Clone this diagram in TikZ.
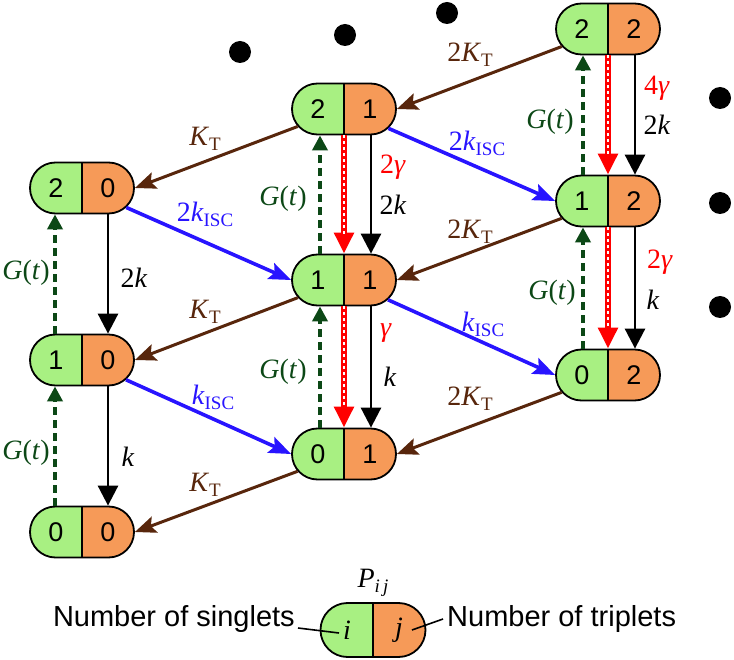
\documentclass[tikz,border=0pt]{standalone}
\usepackage{fontspec}
\setmainfont{Liberation Serif}
\setsansfont{Liberation Sans}
\usetikzlibrary{shapes.misc,arrows.meta,calc}
\definecolor{lgreen}{RGB}{168,240,130}
\definecolor{lorange}{RGB}{246,154,88}
\definecolor{kbrown}{RGB}{88,38,12}
\definecolor{kblue}{RGB}{40,20,255}
\definecolor{kgreen}{RGB}{12,72,22}
\newcommand{\mysub}[1]{\raisebox{-0.4ex}{\fontsize{19}{19}\selectfont #1}}
\newcommand{\digfont}{\sffamily\fontsize{27}{27}\selectfont}
\tikzset{
  pnode/.style 2 args={rounded rectangle, draw, line width=1.8pt,
    minimum width=104pt, minimum height=51pt, inner sep=0pt,
    path picture={
      \fill[lgreen] (path picture bounding box.south west) rectangle (path picture bounding box.north);
      \fill[lorange] (path picture bounding box.south) rectangle (path picture bounding box.north east);
      \draw[line width=1.6pt] (path picture bounding box.south) -- (path picture bounding box.north);},
    label={[xshift=-26pt,font=\digfont,inner sep=0pt]center:#1},
    label={[xshift=26pt,font=\digfont,inner sep=0pt]center:#2}},
  lab/.style={font=\fontsize{28}{30}\selectfont, inner sep=0pt},
  legtext/.style={font=\sffamily\fontsize{29}{31}\selectfont, inner sep=0pt},
  brownarr/.style={draw=kbrown, line width=3pt, -{Stealth[length=21pt,width=17pt,inset=4pt]}},
  bluearr/.style={draw=kblue, line width=3.6pt, -{Stealth[length=22pt,width=17pt,inset=4pt]}},
  blackarr/.style={draw=black, line width=2.8pt, -{Triangle[length=20pt,width=20pt]}},
  greenarr/.style={draw=kgreen, line width=4.5pt, dash pattern=on 8pt off 5pt, -{Triangle[length=15pt,width=15pt]}},
  redarr/.style={draw=red, line width=6.5pt, -{Triangle[length=21pt,width=19pt]}},
  reddots/.style={draw=white, line width=2.2pt, dash pattern=on 3pt off 3pt, shorten >=20pt},
}
\begin{document}
\begin{tikzpicture}[x=1pt,y=-1pt]
\useasboundingbox (0,0) rectangle (734,660);
% dots
\fill (240,52) circle (11pt);
\fill (345,35) circle (11pt);
\fill (447,13) circle (11pt);
\fill (720,98) circle (11pt);
\fill (720,203) circle (11pt);
\fill (720,307) circle (11pt);
% nodes
\node[pnode={2}{0}] (n20) at (82,188) {};
\node[pnode={1}{0}] (n10) at (82,360) {};
\node[pnode={0}{0}] (n00) at (82,532) {};
\node[pnode={2}{1}] (n21) at (344,109) {};
\node[pnode={1}{1}] (n11) at (344,280) {};
\node[pnode={0}{1}] (n01) at (344,454) {};
\node[pnode={2}{2}] (n22) at (608,29) {};
\node[pnode={1}{2}] (n12) at (608,201) {};
\node[pnode={0}{2}] (n02) at (608,375) {};
% brown
\draw[brownarr] (n21) -- (n20.east);
\draw[brownarr] (n11) -- (n10.east);
\draw[brownarr] (n01) -- (n00.east);
\draw[brownarr] (n22) -- (n21.east);
\draw[brownarr] (n12) -- (n11.east);
\draw[brownarr] (n02) -- (n01.east);
% blue
\draw[bluearr] (n20) -- (n11.west);
\draw[bluearr] (n10) -- (n01.west);
\draw[bluearr] (n21) -- (n12.west);
\draw[bluearr] (n11) -- (n02.west);
% green
\draw[greenarr] ([xshift=-27pt]n10.north) -- ([xshift=-27pt]n20.south);
\draw[greenarr] ([xshift=-27pt]n00.north) -- ([xshift=-27pt]n10.south);
\draw[greenarr] ([xshift=-24pt]n11.north) -- ([xshift=-24pt]n21.south);
\draw[greenarr] ([xshift=-24pt]n01.north) -- ([xshift=-24pt]n11.south);
\draw[greenarr] ([xshift=-25pt]n12.north) -- ([xshift=-25pt]n22.south);
\draw[greenarr] ([xshift=-25pt]n02.north) -- ([xshift=-25pt]n12.south);
% black
\draw[blackarr] ([xshift=26pt]n20.south) -- ([xshift=26pt]n10.north);
\draw[blackarr] ([xshift=26pt]n10.south) -- ([xshift=26pt]n00.north);
\draw[blackarr] ([xshift=27pt]n21.south) -- ([xshift=27pt]n11.north);
\draw[blackarr] ([xshift=27pt]n11.south) -- ([xshift=27pt]n01.north);
\draw[blackarr] ([xshift=27pt]n22.south) -- ([xshift=27pt]n12.north);
\draw[blackarr] ([xshift=27pt]n12.south) -- ([xshift=27pt]n02.north);
% red dotted
\draw[redarr] (n21.south) -- (n11.north);
\draw[reddots] (n21.south) -- (n11.north);
\draw[redarr] (n11.south) -- (n01.north);
\draw[reddots] (n11.south) -- (n01.north);
\draw[redarr] (n22.south) -- (n12.north);
\draw[reddots] (n22.south) -- (n12.north);
\draw[redarr] (n12.south) -- (n02.north);
\draw[reddots] (n12.south) -- (n02.north);
% labels
\node[lab,text=kgreen] (g1) at (26,273) {\textit{G}(\textit{t})};
\node[lab,text=kgreen] (g2) at (26,453) {\textit{G}(\textit{t})};
\node[lab] (k1) at (134,278) {2\textit{k}};
\node[lab] (k2) at (128,457) {\textit{k}};
\node[lab,text=kbrown] (kt1) at (205,139) {\textit{K}\mysub{T}};
\node[lab,text=kbrown] (kt2) at (205,312) {\textit{K}\mysub{T}};
\node[lab,text=kbrown] (kt3) at (205,485) {\textit{K}\mysub{T}};
\node[lab,text=kblue] (ki1) at (205,214) {2\textit{k}\mysub{ISC}};
\node[lab,text=kblue] (ki2) at (213,397) {\textit{k}\mysub{ISC}};
\node[lab,text=kgreen] (g3) at (283,199) {\textit{G}(\textit{t})};
\node[lab,text=kgreen] (g4) at (283,372) {\textit{G}(\textit{t})};
\node[lab,text=red] (r1) at (393,167) {2\textit{γ}};
\node[lab] (k3) at (393,205) {2\textit{k}};
\node[lab,text=red] (r2) at (386,333) {\textit{γ}};
\node[lab] (k4) at (390,377) {\textit{k}};
\node[lab,text=kbrown] (kt4) at (470,55) {2\textit{K}\mysub{T}};
\node[lab,text=kbrown] (kt5) at (470,232) {2\textit{K}\mysub{T}};
\node[lab,text=kbrown] (kt6) at (470,399) {2\textit{K}\mysub{T}};
\node[lab,text=kblue] (ki3) at (477,143) {2\textit{k}\mysub{ISC}};
\node[lab,text=kblue] (ki4) at (483,324) {\textit{k}\mysub{ISC}};
\node[lab,text=kgreen] (g5) at (550,122) {\textit{G}(\textit{t})};
\node[lab,text=kgreen] (g6) at (552,293) {\textit{G}(\textit{t})};
\node[lab,text=red] (r3) at (657,88) {4\textit{γ}};
\node[lab] (k5) at (657,125) {2\textit{k}};
\node[lab,text=red] (r4) at (660,262) {2\textit{γ}};
\node[lab] (k6) at (653,300) {\textit{k}};
% legend
\node[pnode={\rmfamily\itshape\fontsize{28}{28}\selectfont i}{\rmfamily\itshape\fontsize{28}{28}\selectfont j}, minimum height=54pt, minimum width=105pt] (leg) at (373,630) {};
\node[lab] (pij) at (373,583) {\textit{P}\mysub{\textit{i\,j}}};
\node[legtext, anchor=base east] (ns) at (295,626) {Number of singlets};
\node[legtext, anchor=base west] (nt) at (447,626) {Number of triplets};
\coordinate (li) at (339,633);
\coordinate (lj) at (412,630);
\draw[line width=1.6pt] ([xshift=3pt,yshift=-2pt]ns.base east) -- (li);
\draw[line width=1.6pt] (lj) -- ([xshift=-4pt,yshift=7pt]nt.base west);
\end{tikzpicture}
\end{document}
